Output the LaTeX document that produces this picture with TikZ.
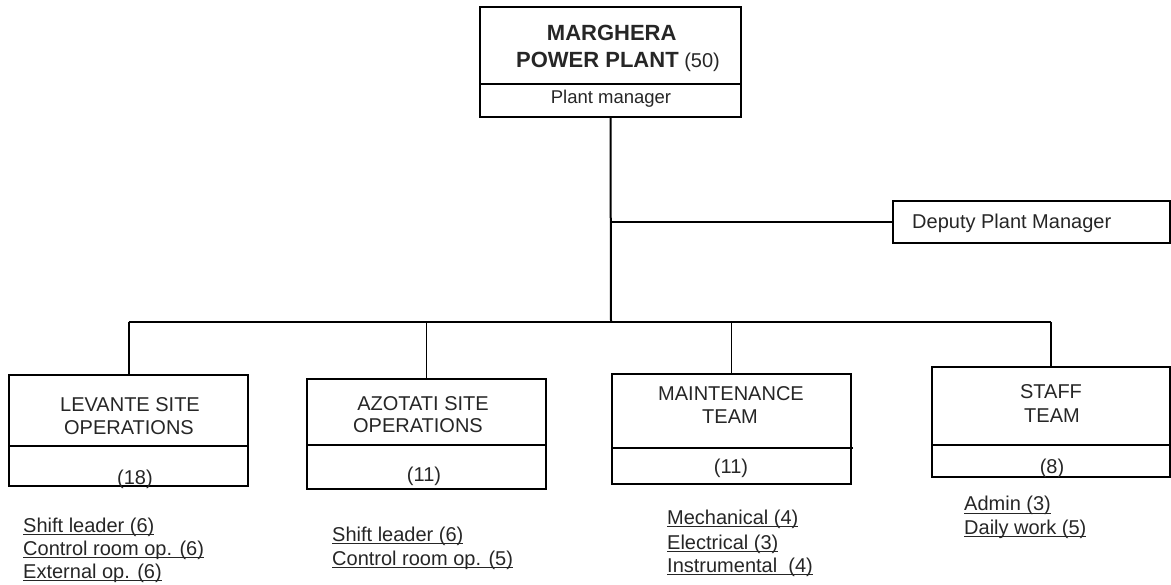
\documentclass[tikz,border=0pt]{standalone}
\usepackage{fontspec}
\setmainfont{Liberation Sans}
\newcommand\myul[1]{\setbox0=\hbox{#1}\rlap{\rule[-2.8pt]{\wd0}{1pt}}\box0}
\tikzset{
  box/.style={draw=black, line width=2pt, rectangle, inner sep=0pt},
  lbl/.style={text=black!85, inner sep=0pt, anchor=base, font=\fontsize{20}{24}\selectfont},
  item/.style={lbl, anchor=base west},
  thickline/.style={line width=2pt},
  thinline/.style={line width=1.1pt},
  divline/.style={line width=1.8pt}
}
\begin{document}
\begin{tikzpicture}[x=1pt,y=-1pt]
\useasboundingbox (0,0) rectangle (1171,585);
% boxes
\node[box, minimum width=261pt, minimum height=110pt] (top) at (610.5,62) {};
\node[box, minimum width=276.5pt, minimum height=42pt] (dep) at (1031.25,222) {};
\node[box, minimum width=239pt, minimum height=111pt] (lev) at (128.5,430.5) {};
\node[box, minimum width=239pt, minimum height=110pt] (azo) at (426.5,434) {};
\node[box, minimum width=239pt, minimum height=110pt] (mnt) at (731.5,429) {};
\node[box, minimum width=237.5pt, minimum height=110pt] (stf) at (1050.75,422) {};
% dividers
\draw[divline] (480,84) -- (741,84);
\draw[divline] (9,446) -- (248,446);
\draw[divline] (307,445) -- (546,445);
\draw[divline] (612,448) -- (853,448);
\draw[divline] (932,445) -- (1169.5,445);
% texts
\node[lbl, font=\bfseries\fontsize{22}{26}\selectfont] (t1) at (611.7,41) {MARGHERA};
\node[lbl] (t2) at (618,68) {{\bfseries\fontsize{22}{26}\selectfont POWER PLANT} {\fontsize{20}{24}\selectfont (50)}};
\node[lbl, font=\fontsize{18.5}{22}\selectfont] (t3) at (611,104) {Plant manager};
\node[lbl, anchor=base west] (d1) at (912,229) {Deputy Plant Manager};
\node[lbl] (l1) at (130,412) {LEVANTE SITE};
\node[lbl] (l2) at (129,435) {OPERATIONS};
\node[lbl] (l3) at (135,484) {(18)};
\node[lbl] (a1) at (423,410) {AZOTATI SITE};
\node[lbl] (a2) at (418,433) {OPERATIONS};
\node[lbl] (a3) at (424,482) {(11)};
\node[lbl] (m1) at (731,401) {MAINTENANCE};
\node[lbl] (m2) at (730,424) {TEAM};
\node[lbl] (m3) at (731,474) {(11)};
\node[lbl] (s1) at (1051,399) {STAFF};
\node[lbl] (s2) at (1052,423) {TEAM};
\node[lbl] (s3) at (1052,473) {(8)};
% lists
\node[item] (li1) at (23,532) {\myul{Shift leader (6)}};
\node[item] (li2) at (23,555) {\myul{Control room op. (6)}};
\node[item] (li3) at (23,578) {\myul{External op. (6)}};
\node[item] (ai1) at (332,541) {\myul{Shift leader (6)}};
\node[item] (ai2) at (332,565) {\myul{Control room op. (5)}};
\node[item] (mi1) at (667,524) {\myul{Mechanical (4)}};
\node[item] (mi2) at (667,549) {\myul{Electrical (3)}};
\node[item] (mi3) at (667,572) {\myul{Instrumental\ \ (4)}};
\node[item] (si1) at (964,511) {\myul{Admin (3)}};
\node[item] (si2) at (964,534) {\myul{Daily work (5)}};
% connectors
\coordinate (busc) at (611,322);
\draw[thickline] (top.south) -- (busc);
\draw[thinline] (top.south |- dep.west) -- (dep.west);
\draw[thickline] (lev.north |- busc) -- (stf.north |- busc);
\draw[thickline] (lev.north |- busc) -- (lev.north);
\draw[thinline] (azo.north |- busc) -- (azo.north);
\draw[thinline] (mnt.north |- busc) -- (mnt.north);
\draw[thickline] (stf.north |- busc) -- (stf.north);
\end{tikzpicture}
\end{document}
